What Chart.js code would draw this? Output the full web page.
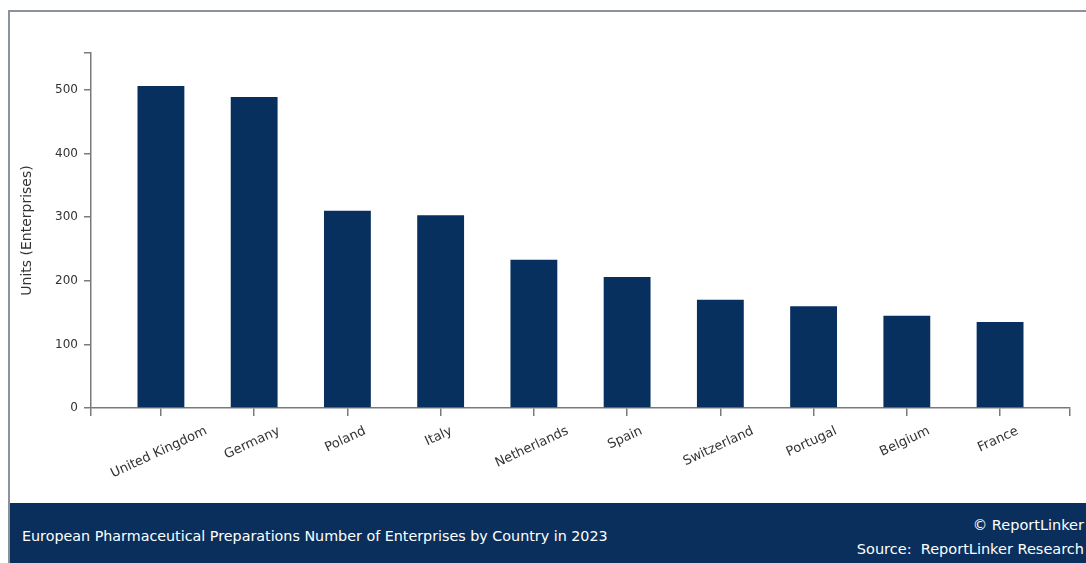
<!DOCTYPE html>
<html>
<head>
<meta charset="utf-8">
<script src="https://cdn.jsdelivr.net/npm/chart.js@4/dist/chart.umd.min.js"></script>
<style>
  html, body { margin:0; padding:0; background:#fff; width:1086px; height:563px; overflow:hidden; font-family:"DejaVu Sans", Verdana, sans-serif; }
  #frame { position:absolute; left:8px; top:10px; right:-4px; bottom:-4px; border-top:2px solid #8a929b; border-left:2px solid #8a929b; }
  #chart { position:absolute; left:0; top:0; }
  #footer { position:absolute; left:10px; top:503px; width:1076px; height:60px; background:#0a2f5d; color:#fff; }
  #footer .title { position:absolute; left:12px; top:25px; font-size:14.3px; }
  #footer .right { position:absolute; right:2px; font-size:14.5px; text-align:right; white-space:pre; }
</style>
</head>
<body>
<div id="frame"></div>
<canvas id="chart" width="1086" height="563"></canvas>
<div id="footer">
  <div class="title">European Pharmaceutical Preparations Number of Enterprises by Country in 2023</div>
  <div class="right" style="top:14px;">© ReportLinker</div>
  <div class="right" style="top:38px;">Source:  ReportLinker Research</div>
</div>
<script>
// data
const countries = ['United Kingdom', 'Germany', 'Poland', 'Italy', 'Netherlands', 'Spain', 'Switzerland', 'Portugal', 'Belgium', 'France'];
const enterprises = [506, 489, 310, 303, 233, 206, 170, 160, 145, 135];
const yStep = 100;
const yMax = 558;

const AXIS = '#7a7a7a';
const TEXT = '#333333';
const BAR = '#07305f';

// rotated country labels, centred under each tick
const countryLabels = {
  id: 'countryLabels',
  afterDraw(chart) {
    const x = chart.scales.x, ctx = chart.ctx;
    const a = 25 * Math.PI / 180;
    ctx.save();
    ctx.font = '13px "DejaVu Sans", Verdana, sans-serif';
    ctx.fillStyle = TEXT;
    ctx.textAlign = 'center';
    ctx.textBaseline = 'middle';
    countries.forEach((name, i) => {
      const w = ctx.measureText(name).width;
      const h = 12;
      const boxH = w * Math.sin(a) + h * Math.cos(a);
      const px = x.getPixelForValue(i) - 2;
      const cy = chart.chartArea.bottom + 17 + boxH / 2;
      ctx.save();
      ctx.translate(px, cy);
      ctx.rotate(-a);
      ctx.fillText(name, 0, 0);
      ctx.restore();
    });
    ctx.restore();
  }
};

new Chart(document.getElementById('chart'), {
  type: 'bar',
  data: {
    datasets: [{
      data: enterprises.map((v, i) => ({ x: i, y: v })),
      backgroundColor: BAR,
      barPercentage: 0.67,
      categoryPercentage: 1
    }]
  },
  options: {
    responsive: false,
    animation: false,
    layout: { padding: { top: 53, right: 16, left: 0, bottom: 0 } },
    plugins: { legend: { display: false }, tooltip: { enabled: false } },
    scales: {
      x: {
        type: 'linear',
        min: -0.75,
        max: 9.75,
        offset: false,
        afterFit(s) { s.height = 155; },
        grid: { offset: false, drawOnChartArea: false, drawTicks: true, tickLength: 8, color: AXIS, lineWidth: 1.5 },
        border: { display: true, color: AXIS, width: 1.5 },
        ticks: { stepSize: 1, includeBounds: true, display: false }
      },
      y: {
        min: 0,
        max: yMax,
        afterFit(s) { s.width = 91; },
        grid: { drawOnChartArea: false, drawTicks: true, tickLength: 7, color: AXIS, lineWidth: 1.5 },
        border: { display: true, color: AXIS, width: 1.5 },
        ticks: {
          stepSize: yStep,
          padding: 6,
          color: TEXT,
          font: { family: '"DejaVu Sans", Verdana, sans-serif', size: 12 },
          callback: v => (v % yStep === 0 ? v : '')
        },
        title: {
          display: true,
          text: 'Units (Enterprises)',
          color: TEXT,
          font: { family: '"DejaVu Sans", Verdana, sans-serif', size: 14 },
          padding: { top: 19, bottom: 0 }
        }
      }
    }
  },
  plugins: [countryLabels]
});
</script>
</body>
</html>
